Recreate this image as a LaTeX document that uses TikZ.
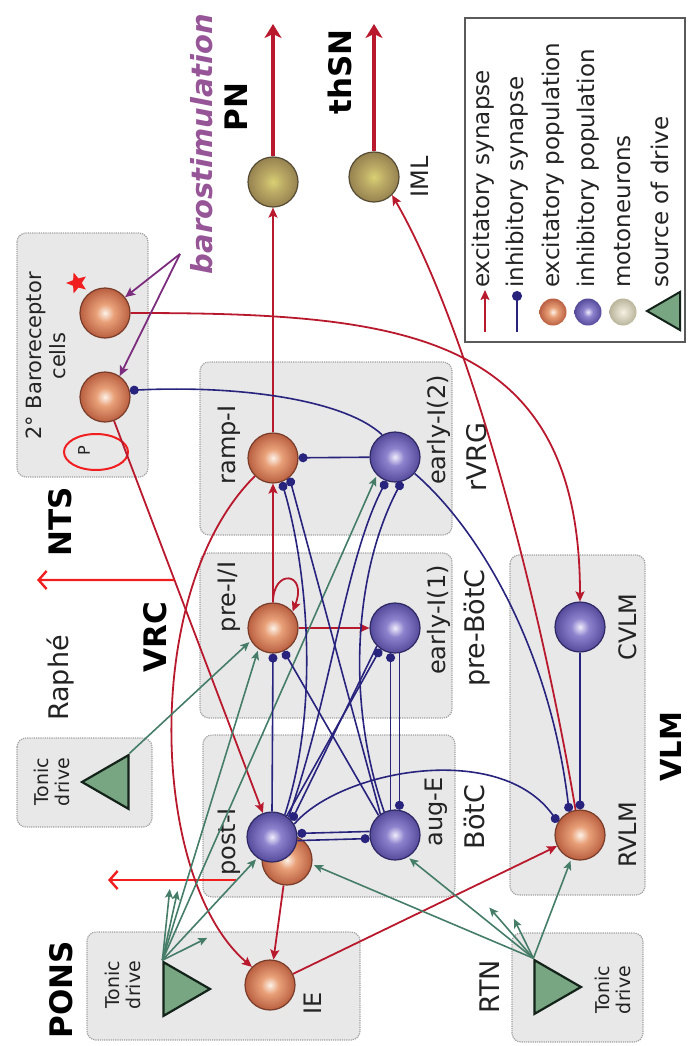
\documentclass[tikz,border=0pt]{standalone}
\usepackage{fontspec}
\setmainfont{DejaVu Sans}
\usetikzlibrary{arrows.meta,shapes.geometric,calc}

\definecolor{boxfill}{RGB}{232,232,232}
\definecolor{boxline}{RGB}{160,160,160}
\definecolor{excred}{RGB}{185,25,45}
\definecolor{brightred}{RGB}{240,30,30}
\definecolor{inhblue}{RGB}{40,35,125}
\definecolor{drivegreen}{RGB}{70,125,105}
\definecolor{baropurple}{RGB}{125,45,125}
\definecolor{barotext}{RGB}{150,85,150}
\definecolor{txt}{RGB}{35,35,35}
\definecolor{excin}{RGB}{252,242,232}
\definecolor{excmid}{RGB}{232,160,120}
\definecolor{excout}{RGB}{185,95,65}
\definecolor{excline}{RGB}{120,60,40}
\definecolor{inhin}{RGB}{240,236,252}
\definecolor{inhmid}{RGB}{140,130,205}
\definecolor{inhout}{RGB}{85,75,155}
\definecolor{inhline}{RGB}{45,40,100}
\definecolor{motin}{RGB}{218,208,115}
\definecolor{motmid}{RGB}{188,172,102}
\definecolor{motout}{RGB}{150,130,80}
\definecolor{motline}{RGB}{85,75,50}
\definecolor{legmotin}{RGB}{245,240,225}
\definecolor{legmotout}{RGB}{185,180,155}
\definecolor{trifill}{RGB}{120,165,130}
\definecolor{triline}{RGB}{20,35,25}
\definecolor{legline}{RGB}{90,90,90}

\pgfdeclareradialshading{excball}{\pgfpoint{0bp}{0bp}}{color(0bp)=(excin); color(9bp)=(excmid); color(25bp)=(excout); color(50bp)=(excout)}
\pgfdeclareradialshading{inhball}{\pgfpoint{0bp}{0bp}}{color(0bp)=(inhin); color(9bp)=(inhmid); color(25bp)=(inhout); color(50bp)=(inhout)}
\pgfdeclareradialshading{motball}{\pgfpoint{0bp}{0bp}}{color(0bp)=(motin); color(10bp)=(motmid); color(25bp)=(motout); color(50bp)=(motout)}
\pgfdeclareradialshading{legmotball}{\pgfpoint{0bp}{0bp}}{color(0bp)=(legmotin); color(25bp)=(legmotout); color(50bp)=(legmotout)}

\begin{document}
\begin{tikzpicture}[x=1pt,y=-1pt,
  region/.style={fill=boxfill, draw=boxline, densely dotted, line width=1.2pt, rounded corners=9pt},
  pop/.style={circle, minimum size=50pt, inner sep=0pt, line width=1.2pt},
  excpop/.style={pop, draw=excline, shading=excball},
  inhpop/.style={pop, draw=inhline, shading=inhball},
  motpop/.style={pop, draw=motline, shading=motball},
  tonic/.style={regular polygon, regular polygon sides=3, minimum size=62pt, inner sep=0pt,
    draw=triline, line width=2.2pt, fill=trifill},
  excsyn/.style={draw=excred, line width=1.8pt, -{Stealth[length=10pt,width=9pt,inset=2pt]}},
  outarrow/.style={draw=excred, line width=3.6pt, -{Stealth[length=14pt,width=17pt,inset=4pt]}},
  vrcarrow/.style={draw=brightred, line width=2.4pt, -{Straight Barb[length=8pt,width=18pt]}},
  barosyn/.style={draw=baropurple, line width=1.8pt, -{Stealth[length=10pt,width=9pt,inset=2pt]}},
  drivesyn/.style={draw=drivegreen, line width=1.6pt, -{Stealth[length=9pt,width=8pt,inset=2pt]}, shorten >=2pt},
  inhsyn/.style={draw=inhblue, line width=1.6pt, -{Circle[length=9pt]}},
  lab/.style={rotate=90, inner sep=0pt, text=txt, font=\fontsize{24pt}{27pt}\selectfont},
  reglab/.style={rotate=90, inner sep=0pt, text=txt, font=\fontsize{27pt}{30pt}\selectfont},
  boldlab/.style={rotate=90, inner sep=0pt, text=black, font=\bfseries\fontsize{31pt}{34pt}\selectfont},
  drivelab/.style={rotate=90, inner sep=0pt, text=txt, align=center, font=\fontsize{19pt}{21pt}\selectfont},
  leglab/.style={rotate=90, anchor=west, inner sep=0pt, text=txt, font=\fontsize{23pt}{26pt}\selectfont}
]
\useasboundingbox (0,0) rectangle (689,1046);

% grey regions
\path[region] (17,233) rectangle (148,477);
\path[region] (17,738) rectangle (152,827);
\path[region] (87,932) rectangle (360,1040);
\path[region] (512,933) rectangle (643,1042);
\path[region] (510,555) rectangle (645,895);
\path[region] (200,362) rectangle (452,535);
\path[region] (200,553) rectangle (452,718);
\path[region] (203,735) rectangle (455,897);

% region and population labels
\node[boldlab] (tpons) at (61,990) {PONS};
\node[boldlab] (tnts) at (60,522) {NTS};
\node[boldlab] (tvrc) at (155,637) {VRC};
\node[boldlab, font=\bfseries\fontsize{29pt}{32pt}\selectfont] (tvlm) at (671,747) {VLM};
\node[boldlab] (tpn) at (236,107) {PN};
\node[boldlab] (tthsn) at (340,72) {thSN};
\node[reglab] (traphe) at (61,678) {Raphé};
\node[reglab] (trvrg) at (477,457) {rVRG};
\node[reglab] (tprebotc) at (477,628) {pre-BötC};
\node[reglab] (tbotc) at (474,817) {BötC};
\node[reglab] (trtn) at (490,987) {RTN};
\node[lab] (timl) at (420,177) {IML};
\node[lab] (tramp) at (229,445) {ramp-I};
\node[lab] (tprei) at (229,597) {pre-I/I};
\node[lab] (tposti) at (229,842) {post-I};
\node[lab] (teitwo) at (439,430) {early-I(2)};
\node[lab] (teione) at (439,620) {early-I(1)};
\node[lab] (tauge) at (436,812) {aug-E};
\node[lab] (tcvlm) at (628,627) {CVLM};
\node[lab] (trvlm) at (628,835) {RVLM};
\node[lab] (tie) at (313,1003) {IE};
\node[lab, align=center, font=\fontsize{21pt}{24pt}\selectfont] (tbaro) at (46,356) {2° Baroreceptor\\cells};
\node[drivelab] (tdpt) at (123,985) {Tonic\\drive};
\node[drivelab] (tdrt) at (52,782) {Tonic\\drive};
\node[drivelab] (tdnt) at (613,990) {Tonic\\drive};
\node[rotate=90, inner sep=0pt, text=barotext, font=\bfseries\itshape\fontsize{29pt}{32pt}\selectfont] (tbarostim) at (202,144) {barostimulation};

% populations
\node[excpop] (bb) at (105,397) {};
\node[excpop] (bt) at (105,313) {};
\node[motpop] (pn) at (273,182) {};
\node[motpop] (iml) at (374,177) {};
\node[excpop] (ramp) at (273,458) {};
\node[excpop] (prei) at (273,628) {};
\node[inhpop] (eitwo) at (395,457) {};
\node[inhpop] (eione) at (395,628) {};
\node[inhpop] (cvlm) at (580,627) {};
\node[excpop] (postie) at (287,860) {};
\node[inhpop] (posti) at (272,837) {};
\node[inhpop] (auge) at (395,835) {};
\node[excpop] (rvlm) at (580,835) {};
\node[excpop] (ie) at (270,985) {};

% sources of tonic drive
\node[tonic, shape border rotate=-90] (tdpons) at (179,989) {};
\node[tonic, shape border rotate=-90] (tdrtn) at (550,987) {};
\node[tonic, shape border rotate=90] (tdraphe) at (113,782) {};

% marks at the baroreceptor cells
\node[star, star points=5, star point ratio=2.3, fill=brightred, minimum size=22pt, inner sep=0pt, shape border rotate=90] (mark) at (77,283) {};
\node[ellipse, draw=brightred, line width=2pt, minimum width=64pt, minimum height=36pt, inner sep=0pt] (pmark) at (96,452) {};
\node[rotate=90, inner sep=0pt, text=txt, font=\fontsize{16pt}{18pt}\selectfont] (ptext) at (84,451) {P};

% free ends
\coordinate (pnend) at (273,24);
\coordinate (imlend) at (374,24);
\coordinate (ntsjoin) at ($(bb)!0.416!(posti)$);
\coordinate (ntsend) at (37,580);
\coordinate (vrcjoin) at (236,880);
\coordinate (vrcend) at (108,880);
\coordinate (barosrc) at (180,254);
\coordinate (pst1) at (170,887);
\coordinate (pst2) at (178,889);
\coordinate (pst3) at (209,937);
\coordinate (rst1) at (488,906);
\coordinate (rst2) at (513,917);

% excitatory synapses
\draw[excsyn] (ramp) -- (pn);
\draw[outarrow] (pn) -- (pnend);
\draw[outarrow] (iml) -- (imlend);
\draw[excsyn] (prei) -- (ramp);
\draw[excsyn] (prei.north) .. controls (273,568) and (308,572) .. (prei.40);
\draw[excsyn] (prei) -- (eione);
\draw[excsyn] (bt.east) .. controls (400,313) and (580,330) .. (cvlm.north);
\draw[excsyn] (rvlm.100) .. controls (540,600) and (470,330) .. (iml.-45);
\draw[excsyn] (bb) -- (posti);
\draw[vrcarrow] (ntsjoin) -- (ntsend);
\draw[vrcarrow] (vrcjoin) -- (vrcend);
\draw[excsyn] (ramp.225) .. controls (140,590) and (150,880) .. (ie.135);
\draw[excsyn] (postie) -- (ie);
\draw[excsyn] (ie) -- (rvlm);

% barostimulation
\draw[barosyn] (barosrc) -- (bt);
\draw[barosyn] (barosrc) -- (bb.55);

% tonic drive
\draw[drivesyn] (tdraphe.corner 3) -- (prei.210);
\draw[drivesyn] (tdpons.corner 2) -- (prei.235);
\draw[drivesyn] (tdpons.corner 2) -- (posti.235);
\draw[drivesyn] (tdpons.corner 2) -- (eitwo.225);
\draw[drivesyn] (tdpons.corner 2) -- (pst1);
\draw[drivesyn] (tdpons.corner 2) -- (pst2);
\draw[drivesyn] (tdpons.corner 2) -- (pst3);
\draw[drivesyn] (tdrtn.corner 2) -- (auge.-60);
\draw[drivesyn] (tdrtn.corner 2) -- (rvlm.250);
\draw[drivesyn] (tdrtn.corner 2) -- (postie.-10);
\draw[drivesyn] (tdrtn.corner 2) -- (rst1);
\draw[drivesyn] (tdrtn.corner 2) -- (rst2);

% inhibitory synapses
\draw[inhsyn] (eitwo.120) .. controls (345,400) and (240,385) .. (bb.15);
\draw[inhsyn] (eitwo) -- (ramp);
\draw[inhsyn] (posti.60) .. controls (322,700) and (305,560) .. (ramp.290);
\draw[inhsyn] (auge.125) -- (ramp.-50);
\draw[inhsyn] (posti.north) -- (prei.south);
\draw[inhsyn] (auge.130) -- (prei.-65);
\draw[inhsyn] (posti.55) -- (eione.235);
\draw[inhsyn] (auge.100) -- (eione.260);
\draw[inhsyn] (eione.280) -- (auge.80);
\draw[inhsyn] (posti.50) .. controls (330,700) and (345,560) .. (eitwo.250);
\draw[inhsyn] (auge.115) .. controls (345,700) and (355,570) .. (eitwo.285);
\draw[inhsyn] (eione.225) -- (posti.40);
\draw[inhsyn] (auge.172) -- (posti.8);
\draw[inhsyn] (posti.-8) -- (auge.188);
\draw[inhsyn] (posti.30) .. controls (340,770) and (500,740) .. (rvlm.150);
\draw[inhsyn] (eitwo.-40) .. controls (480,530) and (550,650) .. (rvlm.115);
\draw[inhsyn] (cvlm) -- (rvlm);

% legend
\node[draw=legline, line width=1.8pt, fill=white, minimum width=220pt, minimum height=324pt, inner sep=0pt] (legend) at (575,180) {};
\coordinate (la1) at (485,332); \coordinate (la2) at (485,290);
\coordinate (lb1) at (517,332); \coordinate (lb2) at (517,291);
\draw[excsyn, line width=1.6pt] (la1) -- (la2);
\draw[inhsyn, -{Circle[length=10pt]}] (lb1) -- (lb2);
\node[pop, minimum size=27pt, draw=none, shading=excball] (lc) at (553,312) {};
\node[pop, minimum size=27pt, draw=none, shading=inhball] (ld) at (588,312) {};
\node[pop, minimum size=27pt, draw=none, shading=legmotball] (le) at (623,312) {};
\node[tonic, shape border rotate=90, minimum size=44pt, line width=2pt] (lf) at (669,311) {};
\node[leglab] (lta) at (483,288) {excitatory synapse};
\node[leglab] (ltb) at (517,288) {inhibitory synapse};
\node[leglab] (ltc) at (553,288) {excitatory population};
\node[leglab] (ltd) at (588,288) {inhibitory population};
\node[leglab] (lte) at (623,288) {motoneurons};
\node[leglab] (ltf) at (660,288) {source of drive};
\end{tikzpicture}
\end{document}
